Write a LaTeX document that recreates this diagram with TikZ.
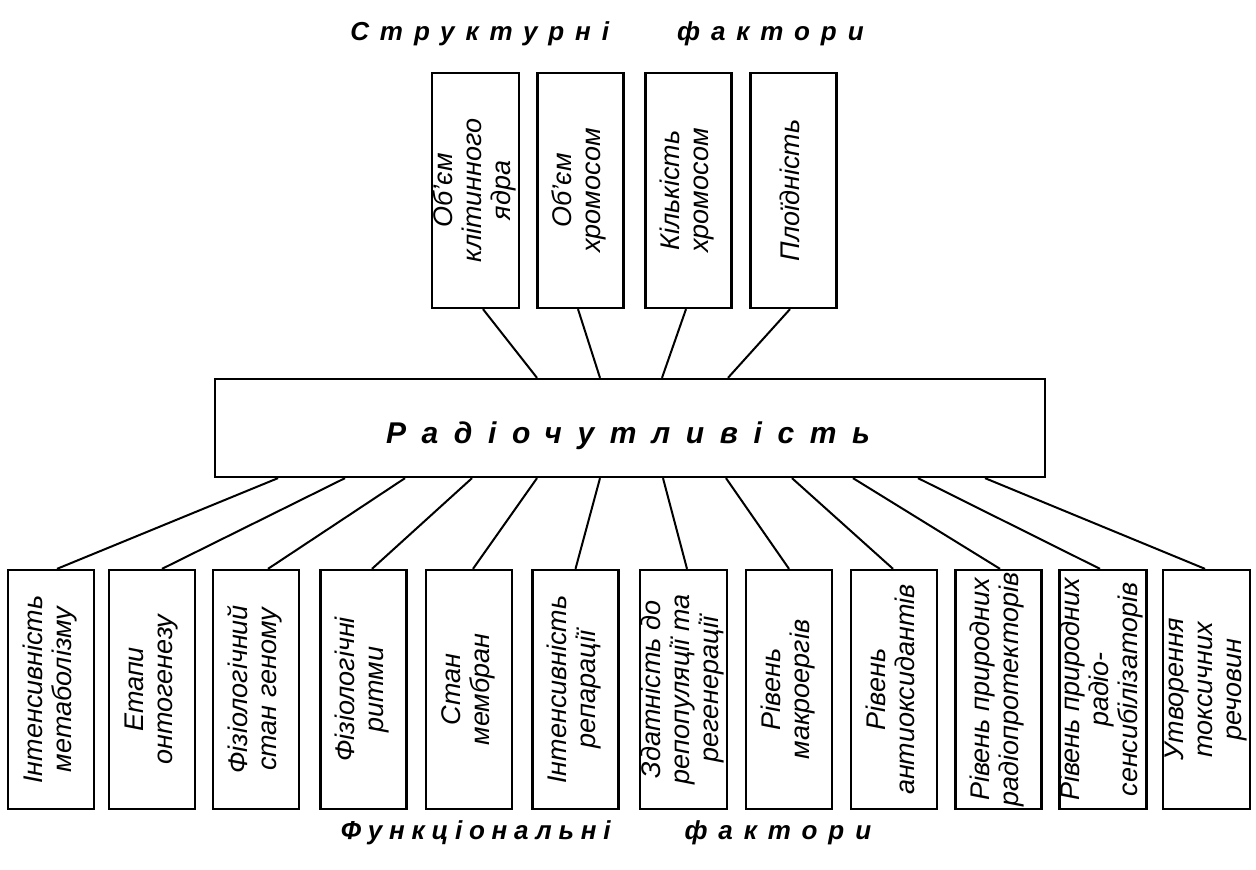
\documentclass[tikz,border=0pt]{standalone}
\usepackage{fontspec}
\setmainfont{Liberation Sans}
\newfontfamily\centrefont[LetterSpace=52]{Liberation Sans Bold Italic}
\newfontfamily\titleA[LetterSpace=42]{Liberation Sans Bold Italic}
\newfontfamily\titleB[LetterSpace=26]{Liberation Sans Bold Italic}
\usetikzlibrary{calc}
\tikzset{
  box/.style={draw, line width=2.3pt, inner sep=0pt, minimum width=86pt},
  topbox/.style={box, minimum height=235pt},
  botbox/.style={box, minimum height=239pt},
  conn/.style={line width=2pt},
  boxtext/.style={font=\fontsize{27}{29}\selectfont\itshape},
  ttl/.style={anchor=base, font=\fontsize{26}{28}\selectfont},
}
\newcommand{\vtext}[1]{\rotatebox{90}{\begin{tabular}{@{}c@{}}#1\end{tabular}}}
\begin{document}
\begin{tikzpicture}[x=1pt,y=1pt]
\useasboundingbox (0,0) rectangle (1256,870);
% titles
\node[ttl] (t1) at (607,829) {\titleA Структурні\hspace{68pt}фактори};
\node[ttl] (t2) at (606,30) {\titleB Функціональні\hspace{74pt}\titleA фактори};
% centre
\node[draw, line width=2.3pt, minimum width=830pt, minimum height=98pt, inner sep=0pt] (c) at (630,442) {};
\node[anchor=base, font=\fontsize{30}{32}\selectfont\centrefont] (ct) at (628,426) {Радіочутливість};
% top boxes
\node[topbox, boxtext] (s1) at (475.5,679.5) {\vtext{Об'єм\\клітинного\\ядра}};
\node[topbox, boxtext] (s2) at (580.5,679.5) {\vtext{Об'єм\\хромосом}};
\node[topbox, boxtext] (s3) at (688.5,679.5) {\vtext{Кількість\\хромосом}};
\node[topbox, boxtext] (s4) at (793.5,679.5) {\vtext{Плоїдність}};
\draw[conn] ([xshift=7.5pt]s1.south) -- ([xshift=-93pt]c.north);
\draw[conn] ([xshift=-2.5pt]s2.south) -- ([xshift=-30pt]c.north);
\draw[conn] ([xshift=-2.5pt]s3.south) -- ([xshift=32pt]c.north);
\draw[conn] ([xshift=-3.5pt]s4.south) -- ([xshift=98pt]c.north);
% bottom boxes
\node[botbox, boxtext] (f1) at (51,180.5) {\vtext{Інтенсивність\\метаболізму}};
\node[botbox, boxtext] (f2) at (152,180.5) {\vtext{Етапи\\онтогенезу}};
\node[botbox, boxtext] (f3) at (256,180.5) {\vtext{Фізіологічний\\стан геному}};
\node[botbox, boxtext] (f4) at (363.5,180.5) {\vtext{Фізіологічні\\ритми}};
\node[botbox, boxtext] (f5) at (469,180.5) {\vtext{Стан\\мембран}};
\node[botbox, boxtext] (f6) at (575.5,180.5) {\vtext{Інтенсивність\\репарації}};
\node[botbox, boxtext] (f7) at (683.5,180.5) {\vtext{Здатність до\\репопуляції та\\регенерації}};
\node[botbox, boxtext] (f8) at (789,180.5) {\vtext{Рівень\\макроергів}};
\node[botbox, boxtext] (f9) at (894,180.5) {\vtext{Рівень\\антиоксидантів}};
\node[botbox, boxtext] (f10) at (998.5,180.5) {\vtext{Рівень природних\\радіопротекторів}};
\node[botbox, boxtext] (f11) at (1103,180.5) {\vtext{Рівень природних\\радіо-\\сенсибілізаторів}};
\node[botbox, boxtext] (f12) at (1206.5,180.5) {\vtext{Утворення\\токсичних\\речовин}};
\draw[conn] ([xshift=-352pt]c.south) -- ([xshift=6pt]f1.north);
\draw[conn] ([xshift=-285pt]c.south) -- ([xshift=10pt]f2.north);
\draw[conn] ([xshift=-225pt]c.south) -- ([xshift=12pt]f3.north);
\draw[conn] ([xshift=-158pt]c.south) -- ([xshift=8.5pt]f4.north);
\draw[conn] ([xshift=-93pt]c.south) -- ([xshift=4pt]f5.north);
\draw[conn] ([xshift=-30pt]c.south) -- ([xshift=0pt]f6.north);
\draw[conn] ([xshift=33pt]c.south) -- ([xshift=3.5pt]f7.north);
\draw[conn] ([xshift=96pt]c.south) -- ([xshift=0pt]f8.north);
\draw[conn] ([xshift=162pt]c.south) -- ([xshift=-1pt]f9.north);
\draw[conn] ([xshift=223pt]c.south) -- ([xshift=1.5pt]f10.north);
\draw[conn] ([xshift=288pt]c.south) -- ([xshift=-3pt]f11.north);
\draw[conn] ([xshift=355pt]c.south) -- ([xshift=-1.5pt]f12.north);
\end{tikzpicture}
\end{document}
